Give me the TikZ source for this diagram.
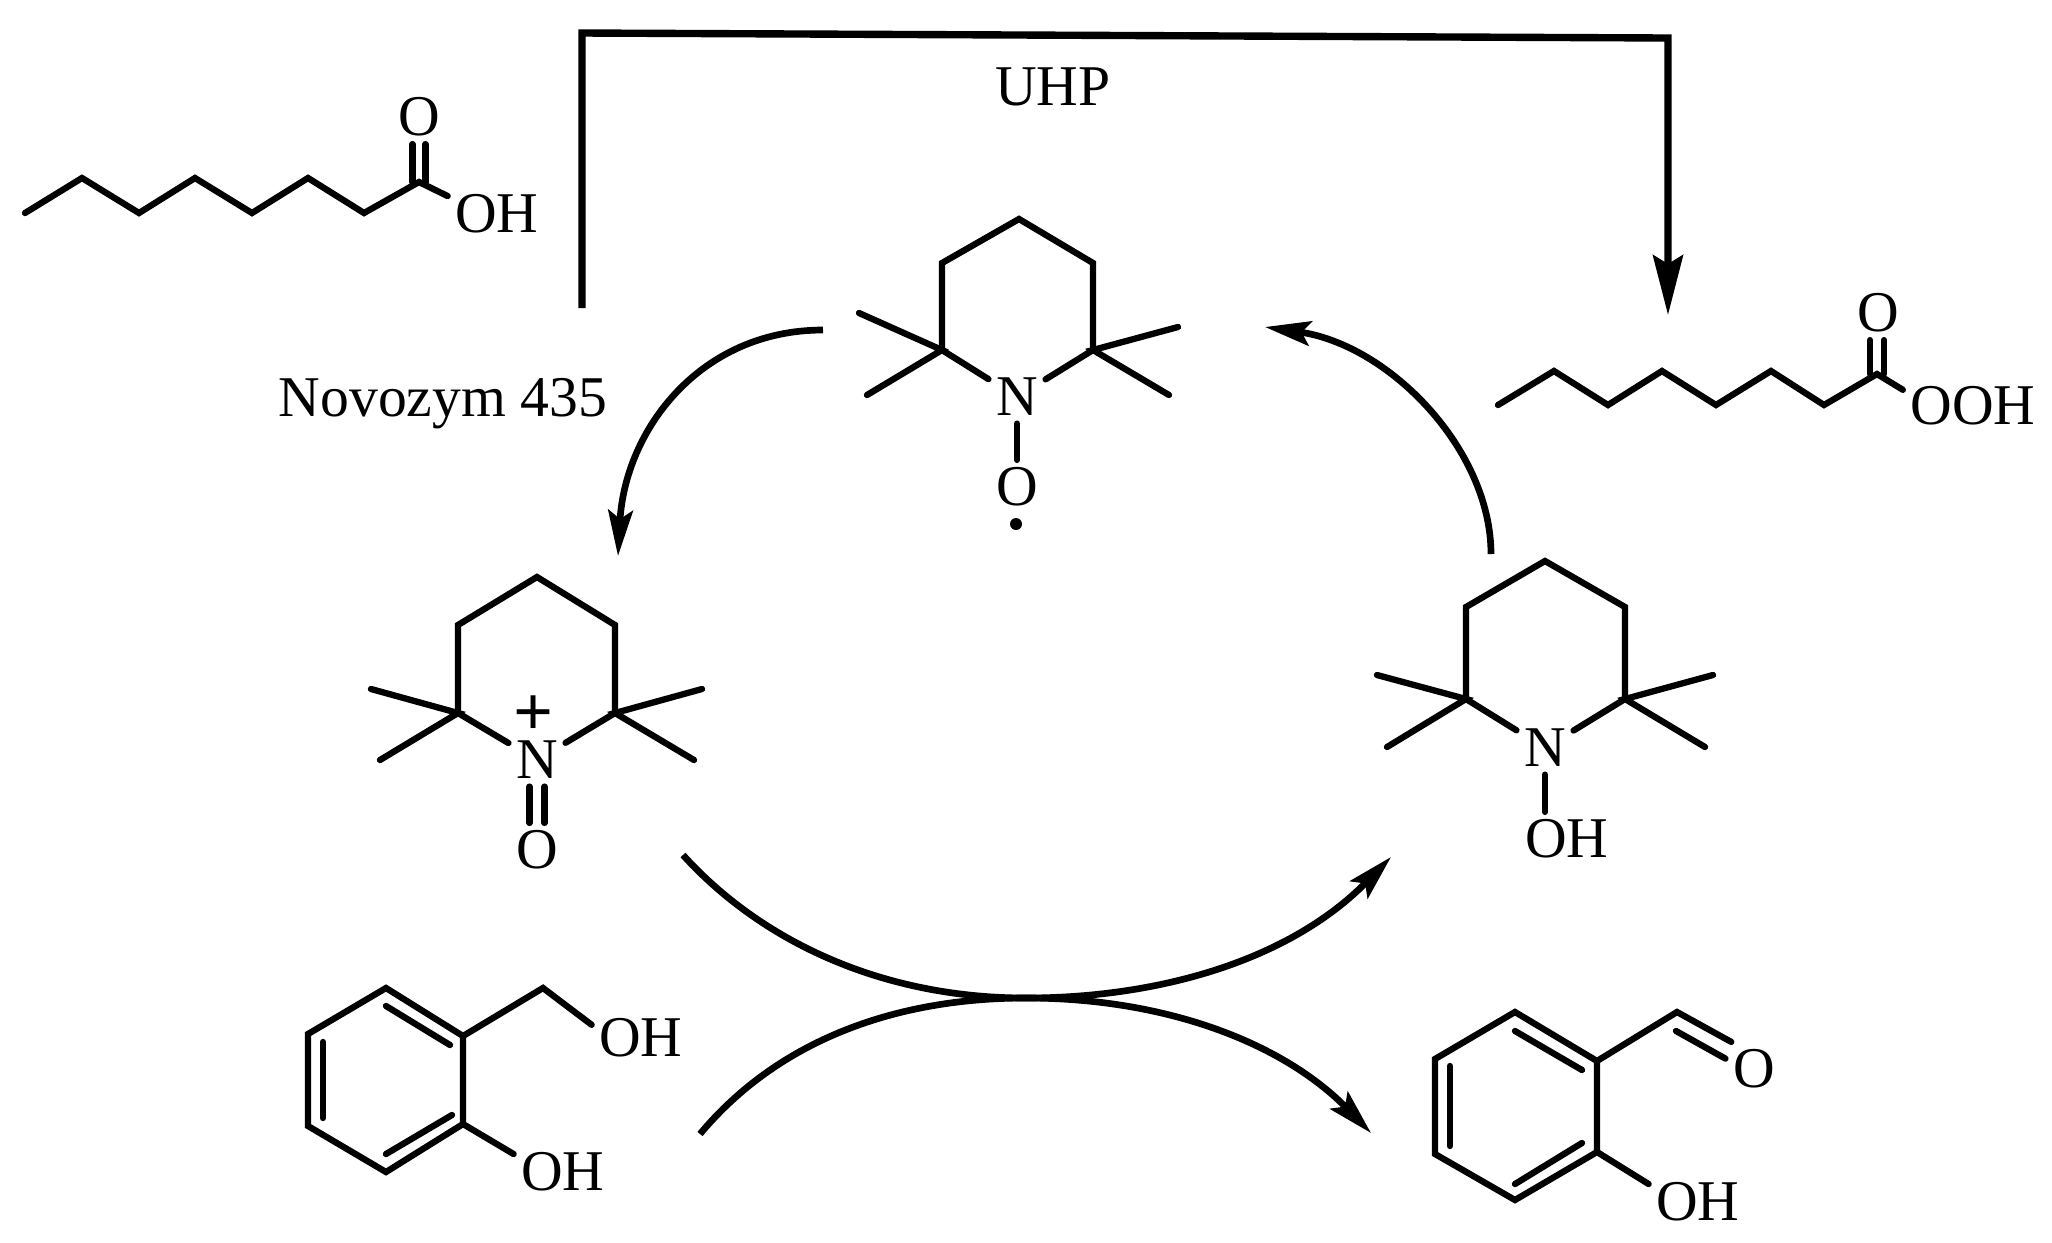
\documentclass[tikz,border=0pt]{standalone}
\usepackage{fontspec}
\setmainfont{Liberation Serif}
\usetikzlibrary{arrows.meta}

\begin{document}
\begin{tikzpicture}[x=0.1mm,y=-0.1mm,
    bond/.style={line width=1.8pt,line cap=round,line join=miter},
    atom/.style={inner sep=2pt,font=\fontsize{16.4}{18}\selectfont},
    charge/.style={inner sep=0pt,font=\fontsize{20}{20}\selectfont\bfseries},
    radical/.style={circle,fill=black,inner sep=0pt,minimum size=1.2mm},
    bigarrow/.style={line width=2.1pt,-{Stealth[length=17pt,width=8.5pt,inset=2.5pt]}},
    curvearrow/.style={line width=1.9pt,-{Stealth[length=13pt,width=7pt,inset=2.5pt]}}]
\useasboundingbox (0,0) rectangle (2052,1242);

\node [atom] (acidO) at (419,117) {O};
\node [atom] (acidOH) at (497,214) {OH};
\node [atom] (perO) at (1878,313) {O};
\node [atom] (perOOH) at (1973,406) {OOH};
\node [atom] (uhp) at (1053,87) {UHP};
\node [atom,anchor=base] (novo) at (443,416) {Novozym 435};

\node [atom] (radN) at (1017,397) {N};
\node [atom] (radO) at (1017,487) {O};
\node [radical] (radDot) at (1016,524) {};
\node [atom] (oxoN) at (537,760) {N};
\node [charge] (oxoPlus) at (534,716) {+};
\node [atom] (oxoO) at (537,850) {O};
\node [atom] (hydN) at (1545,748) {N};
\node [atom] (hydOH) at (1567,839) {OH};

\node [atom] (alcOHa) at (641,1038) {OH};
\node [atom] (alcOHb) at (563,1172) {OH};
\node [atom] (aldO) at (1754,1069) {O};
\node [atom] (aldOH) at (1698,1202) {OH};

\coordinate (oct1) at (25,213);
\coordinate (oct2) at (82,178);
\coordinate (oct3) at (139,213);
\coordinate (oct4) at (195,178);
\coordinate (oct5) at (252,213);
\coordinate (oct6) at (308,178);
\coordinate (oct7) at (364,213);
\coordinate (oct8) at (419,182);
\draw [bond] (oct1) -- (oct2) -- (oct3) -- (oct4) -- (oct5) -- (oct6) -- (oct7) -- (oct8) -- (acidOH.160);
\draw [bond] ([xshift=-0.65mm]oct8) -- ([xshift=-0.65mm]oct8 |- acidO.south);
\draw [bond] ([xshift=0.65mm]oct8) -- ([xshift=0.65mm]oct8 |- acidO.south);

\coordinate (per1) at (1498,405);
\coordinate (per2) at (1554,371);
\coordinate (per3) at (1608,405);
\coordinate (per4) at (1662,371);
\coordinate (per5) at (1716,405);
\coordinate (per6) at (1771,371);
\coordinate (per7) at (1824,405);
\coordinate (per8) at (1877,374);
\draw [bond] (per1) -- (per2) -- (per3) -- (per4) -- (per5) -- (per6) -- (per7) -- (per8) -- (perOOH.167);
\draw [bond] ([xshift=-0.7mm]per8) -- ([xshift=-0.7mm]per8 |- perO.south);
\draw [bond] ([xshift=0.7mm]per8) -- ([xshift=0.7mm]per8 |- perO.south);

\coordinate (radA) at (1019,219);
\coordinate (radB) at (942,263);
\coordinate (radC) at (942,350);
\coordinate (radD) at (1093,350);
\coordinate (radE) at (1093,263);
\coordinate (radM1) at (859,313);
\coordinate (radM2) at (867,395);
\coordinate (radM3) at (1178,327);
\coordinate (radM4) at (1169,395);
\draw [bond] (radN) -- (radC) -- (radB) -- (radA) -- (radE) -- (radD) -- (radN);
\draw [bond] (radM1) -- (radC) -- (radM2);
\draw [bond] (radM3) -- (radD) -- (radM4);
\draw [bond] (radN) -- (radO);

\coordinate (oxoA) at (537,577);
\coordinate (oxoB) at (458,625);
\coordinate (oxoC) at (458,713);
\coordinate (oxoD) at (615,713);
\coordinate (oxoE) at (615,625);
\coordinate (oxoM1) at (371,689);
\coordinate (oxoM2) at (380,760);
\coordinate (oxoM3) at (702,689);
\coordinate (oxoM4) at (694,760);
\draw [bond] (oxoN) -- (oxoC) -- (oxoB) -- (oxoA) -- (oxoE) -- (oxoD) -- (oxoN);
\draw [bond] (oxoM1) -- (oxoC) -- (oxoM2);
\draw [bond] (oxoM3) -- (oxoD) -- (oxoM4);
\draw [bond] ([xshift=-0.75mm]oxoN.south) -- ([xshift=-0.75mm]oxoO.north);
\draw [bond] ([xshift=0.75mm]oxoN.south) -- ([xshift=0.75mm]oxoO.north);

\coordinate (hydA) at (1545,561);
\coordinate (hydB) at (1466,607);
\coordinate (hydC) at (1466,699);
\coordinate (hydD) at (1625,699);
\coordinate (hydE) at (1625,607);
\coordinate (hydM1) at (1377,675);
\coordinate (hydM2) at (1387,747);
\coordinate (hydM3) at (1713,675);
\coordinate (hydM4) at (1705,747);
\draw [bond] (hydN) -- (hydC) -- (hydB) -- (hydA) -- (hydE) -- (hydD) -- (hydN);
\draw [bond] (hydM1) -- (hydC) -- (hydM2);
\draw [bond] (hydM3) -- (hydD) -- (hydM4);
\draw [bond] (hydN.south) -- (hydN.south |- hydOH.north);

\coordinate (alcA) at (386,988);
\coordinate (alcB) at (308,1034);
\coordinate (alcC) at (308,1126);
\coordinate (alcD) at (386,1172);
\coordinate (alcE) at (463,1124);
\coordinate (alcF) at (463,1036);
\coordinate (alcG) at (543,988);
\coordinate (alcI1) at (386,1006);
\coordinate (alcI2) at (450,1045);
\coordinate (alcI3) at (323,1042);
\coordinate (alcI4) at (323,1118);
\coordinate (alcI5) at (386,1154);
\coordinate (alcI6) at (452,1115);
\draw [bond] (alcA) -- (alcB) -- (alcC) -- (alcD) -- (alcE) -- (alcF) -- cycle;
\draw [bond] (alcI1) -- (alcI2);
\draw [bond] (alcI3) -- (alcI4);
\draw [bond] (alcI5) -- (alcI6);
\draw [bond] (alcF) -- (alcG) -- (alcOHa.165);
\draw [bond] (alcE) -- (alcOHb.160);

\coordinate (aldA) at (1515,1012);
\coordinate (aldB) at (1435,1059);
\coordinate (aldC) at (1435,1154);
\coordinate (aldD) at (1515,1200);
\coordinate (aldE) at (1597,1152);
\coordinate (aldF) at (1597,1061);
\coordinate (aldG) at (1677,1012);
\coordinate (aldI1) at (1515,1031);
\coordinate (aldI2) at (1582,1070);
\coordinate (aldI3) at (1450,1066);
\coordinate (aldI4) at (1450,1146);
\coordinate (aldI5) at (1515,1184);
\coordinate (aldI6) at (1582,1143);
\coordinate (aldI7) at (1676,1031);
\draw [bond] (aldA) -- (aldB) -- (aldC) -- (aldD) -- (aldE) -- (aldF) -- cycle;
\draw [bond] (aldI1) -- (aldI2);
\draw [bond] (aldI3) -- (aldI4);
\draw [bond] (aldI5) -- (aldI6);
\draw [bond] (aldF) -- (aldG) -- (aldO.130);
\draw [bond] (aldI7) -- (aldO.160);
\draw [bond] (aldE) -- (aldOH.160);

\coordinate (brA) at (582,308);
\coordinate (brB) at (582,33);
\coordinate (brC) at (1668,38);
\coordinate (brD) at (1668,315);
\draw [bigarrow] (brA) -- (brB) -- (brC) -- (brD);

\coordinate (leftA) at (823,330);
\coordinate (leftB) at (618,556);
\coordinate (rightA) at (1491,554);
\coordinate (rightB) at (1265,327);
\coordinate (crossA) at (683,855);
\coordinate (crossB) at (1391,857);
\coordinate (crossC) at (700,1134);
\coordinate (crossD) at (1371,1133);
\coordinate (crossM) at (1026,998);
\draw [curvearrow] (leftA) .. controls (700,330) and (625,430) .. (leftB);
\draw [curvearrow] (rightA) .. controls (1491,450) and (1390,345) .. (rightB);
\draw [curvearrow] (crossA) .. controls (760,940) and (880,998) .. (crossM)
    .. controls (1160,998) and (1290,960) .. (crossB);
\draw [curvearrow] (crossC) .. controls (770,1050) and (880,998) .. (crossM)
    .. controls (1170,998) and (1285,1045) .. (crossD);
\end{tikzpicture}
\end{document}
